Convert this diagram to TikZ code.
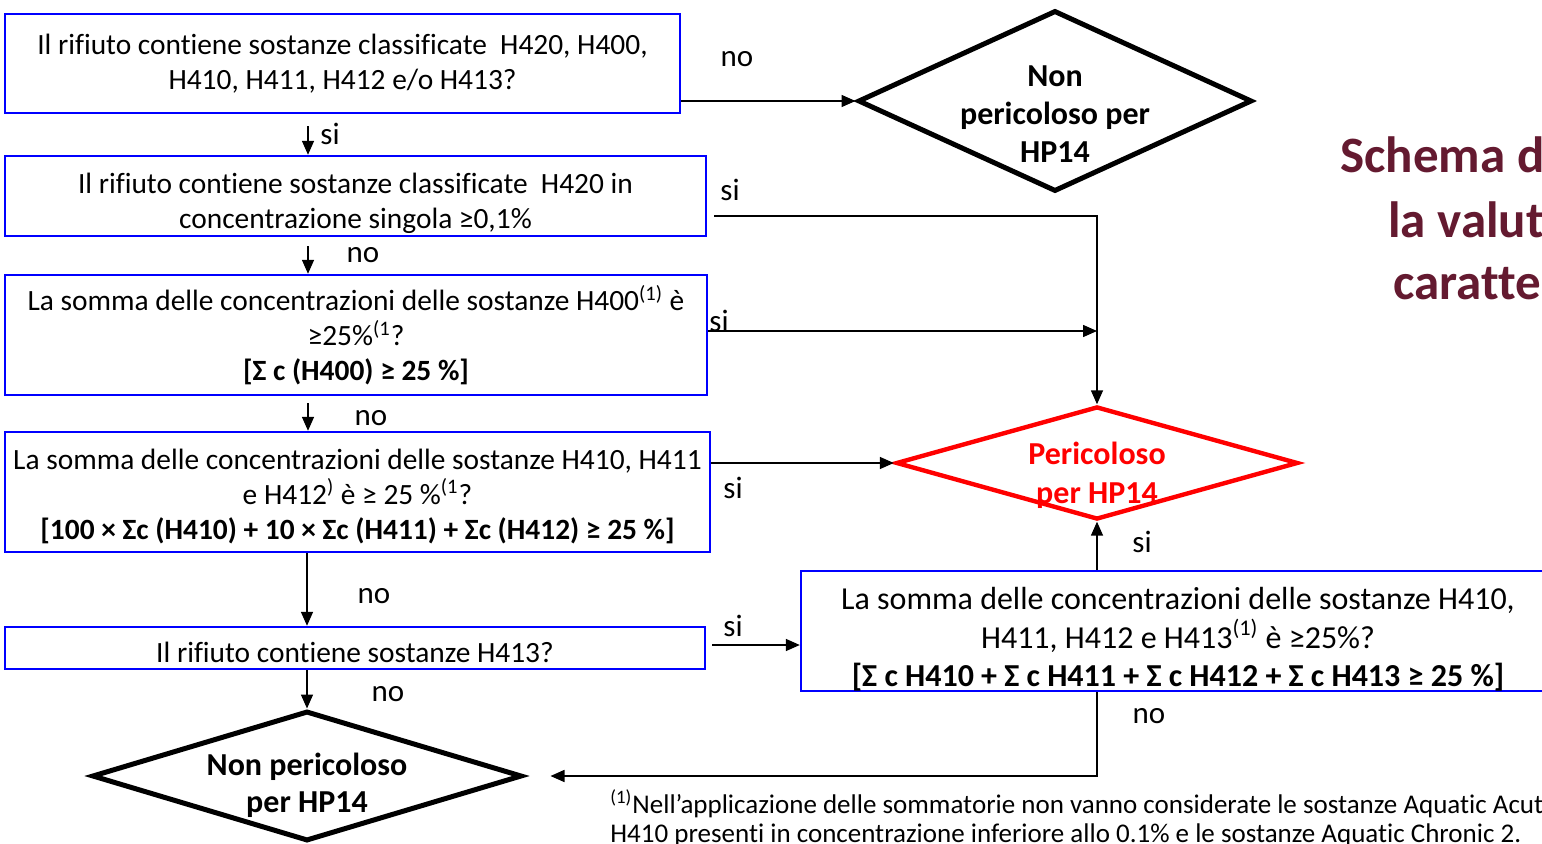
\documentclass[tikz,border=0pt]{standalone}
\usepackage{fontspec}
\setmainfont{Carlito}[Ligatures={TeX,NoCommon}]
\usepackage{tikz}
\usetikzlibrary{arrows.meta,calc,shapes.geometric}
\definecolor{titlered}{RGB}{100,26,48}
\tikzset{qbox/.style={rectangle,draw=blue,line width=1.2pt,inner sep=0pt,align=center,font=\fontsize{14.7}{17.5}\selectfont}}
\tikzset{endbox/.style={diamond,draw=black,line width=2.5pt,inner sep=0pt}}
\tikzset{dtext/.style={align=center,font=\bfseries\fontsize{16}{19}\selectfont}}
\tikzset{lbl/.style={font=\fontsize{15.5}{17}\selectfont}}
\newcommand{\topgap}[1]{\rule{0pt}{#1}}

\begin{document}
\begin{tikzpicture}
[x=0.5pt, y=-0.5pt, >={Triangle[length=7pt,width=6pt]},
 arr/.style={->,line width=0.75pt},
 title/.style={anchor=west,inner sep=0pt,text=titlered,font=\bfseries\fontsize{25.5}{29}\selectfont}]
\useasboundingbox (0,0) rectangle (1542,844);
\clip (0,0) rectangle (1542,844);
\fill[white] (0,0) rectangle (1542,844);

% questions
\node (q1) at (342.5,63.5)[qbox,minimum width=337.5pt,minimum height=49.5pt]{Il rifiuto contiene sostanze classificate\ \ H420, H400,\\H410, H411, H412 e/o H413?};
\node (q2) at (355.5,196)[qbox,minimum width=350.5pt,minimum height=40pt]{\topgap{17.5pt}Il rifiuto contiene sostanze classificate\ \ H420 in\\concentrazione singola ≥0,1\%};
\node (q3) at (356,335)[qbox,minimum width=351pt,minimum height=60pt]{La somma delle concentrazioni delle sostanze H400\textsuperscript{(1)} è\\≥25\%\textsuperscript{(1}?\\\textbf{[Σ c (H400) ≥ 25 \%]}};
\node (q4) at (357.5,492)[qbox,minimum width=352.5pt,minimum height=60pt]{\topgap{14.5pt}La somma delle concentrazioni delle sostanze H410, H411\\e H412\textsuperscript{)} è ≥ 25 \%\textsuperscript{(1}?\\\textbf{[100 × Σc (H410) + 10 × Σc (H411) + Σc (H412) ≥ 25 \%]}};
\node (q5) at (355,648)[qbox,minimum width=350pt,minimum height=21pt]{\topgap{14.5pt}Il rifiuto contiene sostanze H413?};
\node (q6) at (1178,631)[qbox,minimum width=377pt,minimum height=60pt,font=\fontsize{16}{19.2}\selectfont]{\topgap{19.5pt}La somma delle concentrazioni delle sostanze H410,\\H411, H412 e H413\textsuperscript{(1)} è ≥25\%?\\\textbf{[Σ c H410 + Σ c H411 + Σ c H412 + Σ c H413 ≥ 25 \%]}};

% outcomes
\node (d1) at (1055,101)[endbox,minimum width=197pt,minimum height=90.5pt,label={[dtext,yshift=-6.5pt]center:{Non\\pericoloso per\\HP14}}]{};
\node (d2) at (1097,463)[endbox,draw=red,line width=2.2pt,minimum width=201pt,minimum height=56.5pt,label={[dtext,text=red,yshift=-6pt,font=\bfseries\fontsize{16}{19.5}\selectfont]center:{Pericoloso\\per HP14}}]{};
\node (d3) at (307,776)[endbox,minimum width=215pt,minimum height=65pt,label={[dtext,yshift=-4.5pt,font=\bfseries\fontsize{16}{18.5}\selectfont]center:{Non pericoloso\\per HP14}}]{};

\coordinate (spine) at (308,0);

\draw[arr] (d1.west -| q1.east) -- (d1.west);
\draw[arr,shorten <=6pt] (q1.south -| spine) -- (q2.north -| spine);
\draw[arr,shorten <=4.5pt] (q2.south -| spine) -- (q3.north -| spine);
\draw[arr,shorten <=3.5pt] (q3.south -| spine) -- (q4.north -| spine);
\draw[arr] (q4.south -| d3.north) -- (q5.north -| d3.north);
\draw[arr] (q5.south -| d3.north) -- (d3.north);
\draw[arr,shorten <=3.5pt] ([yshift=-10pt]q2.east) -| (d2.north);
\draw[arr] ([yshift=2pt]q3.east) -- ([yshift=2pt]q3.east -| d2.north);
\draw[arr] (q4.east |- d2.west) -- (d2.west);
\draw[arr,shorten <=3pt] ([yshift=1.5pt]q5.east) -- ([yshift=1.5pt]q5.east -| q6.west);
\draw[arr] (q6.north -| d2.south) -- (d2.south);
\draw[arr,shorten >=13pt] (q6.south -| d2.south) |- (d3.east);

% labels
\node[lbl] (no1) at (737,59){no};
\node[lbl] (si1) at (330,134){si};
\node[lbl] (no2) at (363,255){no};
\node[lbl] (si2) at (730,190){si};
\node[lbl] (si3) at (719,321){si};
\node[lbl] (no3) at (371,418){no};
\node[lbl] (si4) at (733,488){si};
\node[lbl] (no4) at (374,596){no};
\node[lbl] (si5) at (733,626){si};
\node[lbl] (no5) at (388,694){no};
\node[lbl] (si6) at (1142,542){si};
\node[lbl] (no6) at (1149,716){no};

% title and note
\node[title] (t1) at (1340,155){Schema d};
\node[title] (t2) at (1388,220){la valut};
\node[title] (t3) at (1393,284){caratte};
\node[anchor=west,align=left,inner sep=0pt,font=\fontsize{13.5}{14.5}\selectfont] (fn) at (610,818){\textsuperscript{(1)}Nell’applicazione delle sommatorie non vanno considerate le sostanze Aquatic Acute\\H410 presenti in concentrazione inferiore allo 0.1\% e le sostanze Aquatic Chronic 2.};
\end{tikzpicture}
\end{document}
